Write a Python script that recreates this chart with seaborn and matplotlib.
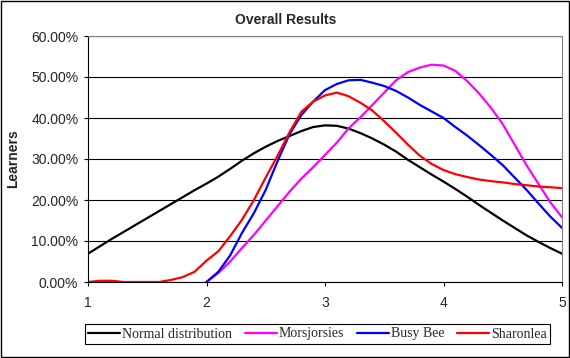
import numpy as np
import pandas as pd
import matplotlib.pyplot as plt
import matplotlib.patches as mpatches
import seaborn as sns

# values (percent of learners)
x_full = [1.0, 1.1, 1.2, 1.3, 1.4, 1.5, 1.6, 1.7, 1.8, 1.9,
          2.0, 2.1, 2.2, 2.3, 2.4, 2.5, 2.6, 2.7, 2.8, 2.9,
          3.0, 3.1, 3.2, 3.3, 3.4, 3.5, 3.6, 3.7, 3.8, 3.9,
          4.0, 4.1, 4.2, 4.3, 4.4, 4.5, 4.6, 4.7, 4.8, 4.9, 5.0]
x_half = x_full[10:]

normal = [6.9, 8.7, 10.5, 12.2, 13.9, 15.6, 17.3, 19.0, 20.7, 22.4,
          24.0, 25.7, 27.6, 29.6, 31.4, 33.0, 34.4, 35.6, 36.8, 37.8,
          38.2, 38.1, 37.4, 36.3, 35.0, 33.5, 31.8, 29.8, 28.0, 26.2,
          24.5, 22.7, 20.8, 18.8, 16.9, 15.0, 13.2, 11.4, 9.8, 8.3, 6.9]
morsjorsies = [0.0, 2.2, 5.0, 8.3, 11.5, 15.0, 18.5, 22.0, 25.2, 28.0,
               31.0, 34.0, 37.5, 40.2, 43.2, 46.2, 49.2, 51.2, 52.3, 53.0,
               52.8, 51.5, 49.0, 46.0, 42.5, 38.5, 33.5, 28.5, 24.0, 19.5, 15.8]
busy_bee = [0.0, 2.5, 6.5, 12.0, 16.8, 22.5, 29.5, 36.0, 40.7, 44.0,
            46.8, 48.3, 49.2, 49.3, 48.6, 47.8, 46.6, 45.0, 43.2, 41.6,
            40.0, 37.8, 35.7, 33.4, 31.0, 28.5, 25.5, 22.5, 19.2, 16.0, 13.2]
sharonlea = [0.0, 0.3, 0.3, 0.0, 0.0, 0.0, 0.0, 0.5, 1.2, 2.5,
             5.2, 7.5, 11.2, 15.2, 20.0, 25.5, 30.8, 36.5, 41.5, 44.0,
             45.5, 46.2, 45.3, 43.7, 41.8, 39.2, 36.4, 33.5, 30.8, 28.8,
             27.3, 26.3, 25.6, 25.0, 24.6, 24.3, 23.9, 23.6, 23.3, 23.1, 22.9]

# short flat pieces near x=1.2
stub_x_blue = [1.1, 1.25]
stub_y_blue = [0.0, 0.0]
stub_x_mag = [1.2, 1.25]
stub_y_mag = [0.0, 0.0]

series_names = ['Normal distribution', 'Morsjorsies', 'Busy Bee', 'Sharonlea']
colors = ['#000000', '#FF00FF', '#0000FF', '#FF0000']

df = pd.concat([
    pd.DataFrame({'x': x_full, 'y': normal, 'series': series_names[0]}),
    pd.DataFrame({'x': x_half, 'y': morsjorsies, 'series': series_names[1]}),
    pd.DataFrame({'x': x_half, 'y': busy_bee, 'series': series_names[2]}),
    pd.DataFrame({'x': x_full, 'y': sharonlea, 'series': series_names[3]}),
])
df['y'] = df['y'] / 100

sns.set_style('white')
plt.rcParams['font.family'] = ['Liberation Sans', 'DejaVu Sans']

fig = plt.figure(figsize=(5.7, 3.58), dpi=100)
ax = fig.add_axes([88 / 570, 76 / 358, 474 / 570, 246 / 358])

# stubs first so the red line lies on top
sns.lineplot(x=np.array(stub_x_blue), y=np.array(stub_y_blue) / 100, color=colors[2],
             linewidth=1.6, ax=ax, legend=False)
sns.lineplot(x=np.array(stub_x_mag), y=np.array(stub_y_mag) / 100, color=colors[1],
             linewidth=1.6, ax=ax, legend=False)
sns.lineplot(data=df, x='x', y='y', hue='series', hue_order=series_names,
             palette=colors, linewidth=1.6, ax=ax, sort=False)

ax.set_xlim(1, 5)
ax.set_ylim(0, 0.6)
ax.set_xticks([1, 2, 3, 4, 5])
ax.set_xticklabels(['1', '2', '3', '4', '5'])
ax.set_yticks([0, 0.1, 0.2, 0.3, 0.4, 0.5, 0.6])
ax.set_yticklabels([f'{v:.2f}%' for v in [0, 10, 20, 30, 40, 50, 60]])
ax.yaxis.grid(True, color='black', linewidth=0.8)
ax.set_axisbelow(True)
ax.tick_params(axis='both', direction='out', length=3, width=0.8, color='black',
               labelsize=10, pad=4, left=True, bottom=True)
ax.tick_params(axis='x', pad=7)
for side in ['left', 'bottom']:
    ax.spines[side].set_color('black')
    ax.spines[side].set_linewidth(0.8)
for side in ['top', 'right']:
    ax.spines[side].set_visible(True)
    ax.spines[side].set_color('#808080')
    ax.spines[side].set_linewidth(0.8)

ax.set_xlabel('')
ax.set_ylabel('Learners', fontsize=10, fontweight='bold')
ax.yaxis.set_label_coords(-68 / 474, 0.5)

fig.text(286 / 570, 1 - 20 / 358, 'Overall Results', ha='center', va='center',
         fontsize=10, fontweight='bold')

handles, labels = ax.get_legend_handles_labels()
leg = ax.legend(handles, labels, ncol=4, loc='center',
                bbox_to_anchor=(317.5 / 570, 24 / 358), bbox_transform=fig.transFigure,
                frameon=True, fancybox=False, edgecolor='black', framealpha=1,
                handlelength=2.3, handletextpad=0.15, columnspacing=0.9,
                borderpad=0.25, prop={'family': 'Liberation Serif', 'size': 10})
leg.get_frame().set_linewidth(0.8)

# outer chart border
fig.patches.append(mpatches.Rectangle((0.001, 0.002), 0.997, 0.995, transform=fig.transFigure,
                                      fill=False, edgecolor='black', linewidth=1))

fig.savefig('out.png', dpi=100)
